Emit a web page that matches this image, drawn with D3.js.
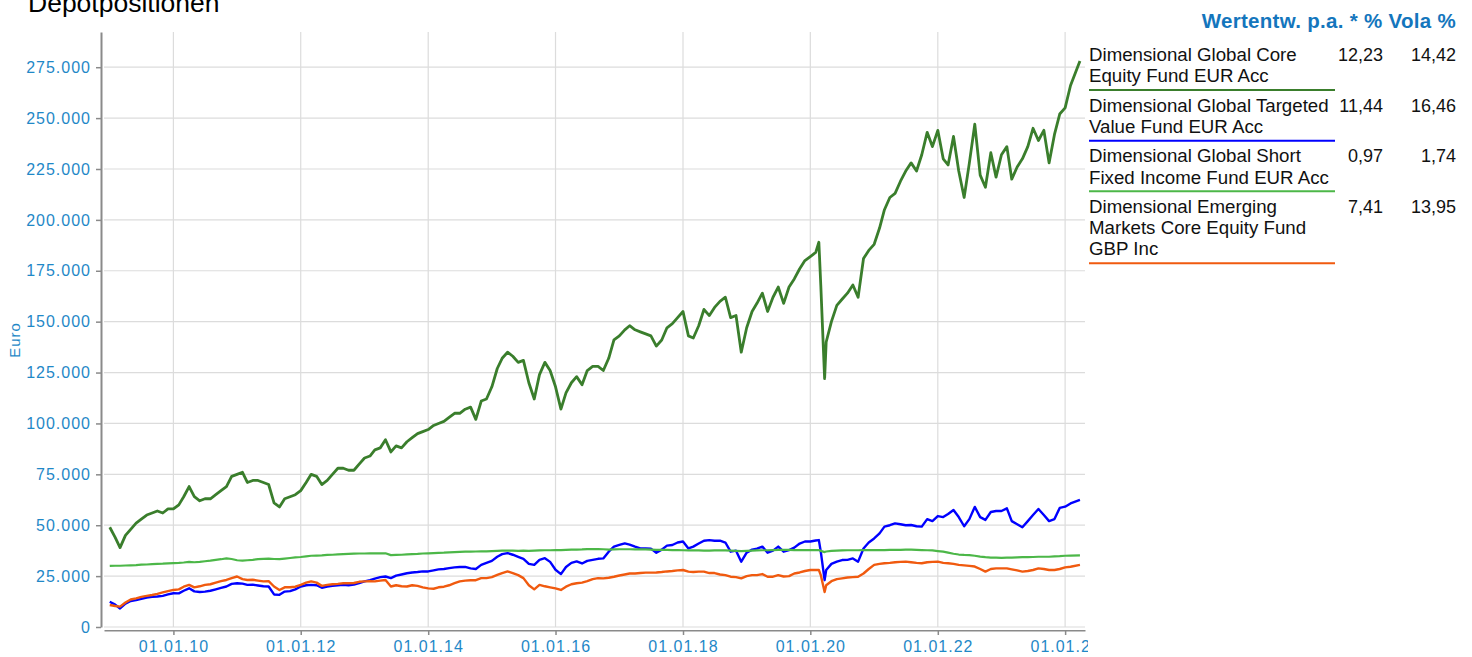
<!DOCTYPE html>
<html>
<head>
<meta charset="utf-8">
<script src="https://cdn.jsdelivr.net/npm/d3@7"></script>
<style>
  body { margin: 0; background: #fff; font-family: "Liberation Sans", Arial, sans-serif; }
</style>
</head>
<body>
<div class="canvas"></div>
<script>
// dates of the readings (month starts, plus a few extra points around the covid crash)
const dates = [
  '2009-01','2009-02','2009-03','2009-04','2009-05','2009-06','2009-07','2009-08','2009-09','2009-10','2009-11','2009-12',
  '2010-01','2010-02','2010-03','2010-04','2010-05','2010-06','2010-07','2010-08','2010-09','2010-10','2010-11','2010-12',
  '2011-01','2011-02','2011-03','2011-04','2011-05','2011-06','2011-07','2011-08','2011-09','2011-10','2011-11','2011-12',
  '2012-01','2012-02','2012-03','2012-04','2012-05','2012-06','2012-07','2012-08','2012-09','2012-10','2012-11','2012-12',
  '2013-01','2013-02','2013-03','2013-04','2013-05','2013-06','2013-07','2013-08','2013-09','2013-10','2013-11','2013-12',
  '2014-01','2014-02','2014-03','2014-04','2014-05','2014-06','2014-07','2014-08','2014-09','2014-10','2014-11','2014-12',
  '2015-01','2015-02','2015-03','2015-04','2015-05','2015-06','2015-07','2015-08','2015-09','2015-10','2015-11','2015-12',
  '2016-01','2016-02','2016-03','2016-04','2016-05','2016-06','2016-07','2016-08','2016-09','2016-10','2016-11','2016-12',
  '2017-01','2017-02','2017-03','2017-04','2017-05','2017-06','2017-07','2017-08','2017-09','2017-10','2017-11','2017-12',
  '2018-01','2018-02','2018-03','2018-04','2018-05','2018-06','2018-07','2018-08','2018-09','2018-10','2018-11','2018-12',
  '2019-01','2019-02','2019-03','2019-04','2019-05','2019-06','2019-07','2019-08','2019-09','2019-10','2019-11','2019-12',
  '2020-01','2020-02','2020-02-19','2020-03','2020-03-23','2020-04','2020-05','2020-06','2020-07','2020-08','2020-09','2020-10','2020-11','2020-12',
  '2021-01','2021-02','2021-03','2021-04','2021-05','2021-06','2021-07','2021-08','2021-09','2021-10','2021-11','2021-12',
  '2022-01','2022-02','2022-03','2022-04','2022-05','2022-06','2022-07','2022-08','2022-09','2022-10','2022-11','2022-12',
  '2023-01','2023-02','2023-03','2023-04','2023-05','2023-06','2023-07','2023-08','2023-09','2023-10','2023-11','2023-12',
  '2024-01','2024-02','2024-03-26'
];

// values in thousand euro
const coreEquity = [
  49, 44, 39, 45, 48, 51, 53, 55, 56, 57, 56, 58,
  58, 60, 64, 69, 64, 62, 63, 63, 65, 67, 69, 74,
  75, 76, 71, 72, 72, 71, 70, 61, 59, 63, 64, 65,
  67, 71, 75, 74, 70, 72, 75, 78, 78, 77, 77, 80,
  83, 84, 87, 88, 92, 86, 89, 88, 91, 93, 95, 96,
  97, 99, 100, 101, 103, 105, 105, 107, 108, 102, 111, 112,
  118, 127, 132, 135, 133, 130, 131, 120, 112, 124, 130, 126,
  118, 107, 115, 120, 123, 119, 126, 128, 128, 126, 132, 141,
  143, 146, 148, 146, 145, 144, 143, 138, 141, 147, 149, 152,
  155, 143, 142, 148, 156, 153, 157, 160, 162, 152, 153, 135,
  147, 155, 159, 164, 155, 162, 167, 159, 167, 171, 176, 180,
  182, 184, 189, 168, 122, 140, 150, 158, 161, 164, 168, 162, 181, 185,
  188, 196, 205, 211, 213, 219, 224, 228, 224, 232, 243, 236,
  244, 230, 227, 241, 224, 211, 228, 247, 222, 216, 233, 221,
  232, 236, 220, 226, 230, 236, 245, 239, 244, 228, 242, 252,
  255, 266, 278
];

const targetedValue = [
  12.4, 11, 9.1, 11.5, 12.8, 13.2, 13.8, 14.5, 14.8, 15, 15.3, 16,
  16.6, 16.5, 17.8, 19, 17.5, 17.2, 17.4, 17.8, 18.5, 19.2, 19.9, 21.2,
  21.5, 21.3, 20.7, 20.8, 20.4, 20, 19.9, 16, 15.8, 17.4, 17.6, 18.5,
  19.9, 20.5, 20.7, 20.5, 19.3, 19.9, 20.2, 20.5, 20.7, 20.5, 20.8, 21.6,
  22.4, 23, 23.8, 24.5, 24.8, 24, 25.2, 25.8, 26.4, 26.8, 27, 27.3,
  27.3, 27.8, 28.3, 28.5, 28.9, 29.3, 29.5, 29.5, 28.8, 28.5, 30.5, 31.5,
  32.5, 34.5, 35.8, 36.3, 35.5, 34.5, 33.5, 31, 30.5, 33, 33.8, 32,
  28.1, 26, 29.5, 31.5, 32.2, 31.2, 32.5, 33, 33.5, 33.7, 37, 39.5,
  40.3, 41.1, 40.5, 39.5, 38.6, 38.6, 38.5, 36.5, 38, 40, 40.3, 41.5,
  42, 38.6, 39.5, 41, 42.4, 42.7, 42.4, 42.4, 41.5, 37, 37.5, 32.1,
  36.5, 38, 38.5, 39.5, 36.5, 37.5, 39.5, 37, 37.8, 39, 41, 42,
  42, 42.5, 42.7, 37, 23, 28, 31, 32.1, 32.9, 33, 33.7, 32.1, 38.6, 41.5,
  43.5, 46, 49.3, 50, 50.9, 50.5, 50, 50.1, 49.5, 49.3, 53, 52,
  54.5, 54, 55.5, 57.5, 54, 49.5, 53, 59, 54, 52.6, 56.5, 57,
  57, 58.3, 52, 50.5, 49, 52, 55, 58, 55, 52, 53, 58.5,
  59.1, 60.7, 62.4
];

const shortFixed = [
  30, 30.1, 30.1, 30.2, 30.3, 30.4, 30.6, 30.7, 30.9, 31, 31.1, 31.3,
  31.4, 31.5, 31.7, 32, 31.8, 32, 32.3, 32.6, 33, 33.3, 33.7, 33.4,
  32.8, 32.6, 32.8, 33, 33.3, 33.5, 33.6, 33.4, 33.3, 33.6, 33.9, 34.2,
  34.4, 34.7, 35, 35.1, 35.2, 35.4, 35.5, 35.7, 35.8, 35.9, 36, 36.1,
  36.1, 36.2, 36.2, 36.2, 36.2, 35.3, 35.4, 35.5, 35.7, 35.8, 35.9, 36.1,
  36.2, 36.3, 36.4, 36.5, 36.7, 36.8, 36.9, 37, 37, 37.1, 37.2, 37.2,
  37.3, 37.4, 37.5, 37.5, 37.5, 37.4, 37.5, 37.4, 37.5, 37.6, 37.7, 37.7,
  37.8, 37.8, 37.9, 38, 38, 38.1, 38.3, 38.3, 38.3, 38.2, 38, 38.1,
  38.2, 38.2, 38.2, 38.1, 38.1, 38.1, 38, 37.9, 37.9, 37.9, 37.8, 37.8,
  37.7, 37.6, 37.6, 37.6, 37.5, 37.5, 37.6, 37.6, 37.6, 37.5, 37.4, 37.3,
  37.4, 37.5, 37.6, 37.7, 37.7, 37.8, 37.9, 37.9, 37.9, 37.8, 37.8, 37.8,
  37.8, 37.8, 37.8, 37.4, 36.8, 37.1, 37.4, 37.5, 37.6, 37.7, 37.7, 37.7, 37.8, 37.8,
  37.8, 37.8, 37.8, 37.9, 37.9, 37.9, 38, 38, 37.9, 37.8, 37.7, 37.6,
  37.3, 37, 36.5, 36, 35.6, 35.4, 35.3, 35, 34.6, 34.3, 34.1, 34.1,
  34, 34.1, 34.1, 34.2, 34.3, 34.3, 34.4, 34.5, 34.5, 34.5, 34.7, 34.8,
  35, 35.1, 35.2
];

const emerging = [
  10.8, 10.3, 10, 12, 13.5, 14.1, 14.8, 15.3, 15.7, 16.3, 17, 17.6,
  18.2, 18.5, 19.8, 20.7, 19.5, 20, 20.7, 21, 21.8, 22.5, 23.1, 24,
  24.8, 23.5, 23.1, 23.2, 22.8, 22.4, 22.5, 19.9, 18.2, 19.5, 19.5, 19.8,
  20.7, 21.8, 22.4, 21.8, 20.2, 20.7, 21, 21.2, 21.5, 21.5, 21.6, 22.2,
  22.4, 22.5, 22.4, 22.8, 23.1, 19.9, 20.5, 20, 19.9, 20.5, 20.2, 19.5,
  19, 18.8, 19.5, 19.8, 20.5, 21.5, 22.4, 22.8, 23, 23, 24, 24,
  24.5, 25.6, 26.5, 27.3, 26.5, 25.5, 24, 20.5, 18.5, 20.7, 20, 19.5,
  19, 18.2, 19.8, 21, 21.5, 21.8, 22.5, 23.5, 24, 23.9, 24.2, 24.7,
  25.3, 25.8, 26.3, 26.3, 26.5, 26.7, 26.7, 26.8, 27, 27.3, 27.5, 27.8,
  28, 27.2, 27, 27.2, 27.2, 26.5, 26.5, 25.8, 25.5, 24.7, 24.5, 23.9,
  25, 25.5, 25.5, 26, 24.7, 24.7, 25.5, 24.8, 25, 26.3, 26.8, 27.5,
  28, 28, 28, 25.5, 17.2, 20.5, 22.5, 23.5, 23.9, 24.3, 24.5, 24.7, 26.3, 28.5,
  30.5, 31, 31.3, 31.5, 31.8, 32, 32.1, 31.8, 31.5, 31.3, 31.8, 32,
  32.1, 31.5, 31.3, 31, 30.5, 30.3, 30, 29.7, 28.5, 27.2, 28.5, 28.8,
  28.8, 28.8, 28.3, 27.8, 27.2, 27.5, 28, 28.8, 28.5, 28, 28, 28.5,
  29.3, 29.6, 30.5
];

// legend texts
const fundNames = [
  ['Dimensional Global Core', 'Equity Fund EUR Acc'],
  ['Dimensional Global Targeted', 'Value Fund EUR Acc'],
  ['Dimensional Global Short', 'Fixed Income Fund EUR Acc'],
  ['Dimensional Emerging', 'Markets Core Equity Fund', 'GBP Inc']
];
const returnsPa = ['12,23', '11,44', '0,97', '7,41'];
const volas = ['14,42', '16,46', '1,74', '13,95'];
const colors = ['#3a7e2c', '#0000ff', '#4cb748', '#f05a0f'];
const widths = [2.8, 2.4, 2.2, 2.4];
const series = [coreEquity, targetedValue, shortFixed, emerging];

const yTicks = [0, 25000, 50000, 75000, 100000, 125000, 150000, 175000, 200000, 225000, 250000, 275000];

const blue = '#1f88c7';
const axisGrey = '#8a8a8a';

const parseDate = s => s.length > 7 ? d3.timeParse('%Y-%m-%d')(s) : d3.timeParse('%Y-%m')(s);
const parsedDates = dates.map(parseDate);

const svg = d3.select('.canvas')
  .append('svg')
  .attr('width', 1472)
  .attr('height', 657)
  .style('display', 'block');

// plot area in page pixels
const plotLeft = 104, plotRight = 1085, plotTop = 32, plotBottom = 627;

const x = d3.scaleTime()
  .domain([new Date(2008, 10, 29), new Date(2024, 3, 24)])
  .range([plotLeft, plotRight]);

const y = d3.scaleLinear()
  .domain([0, 292300])
  .range([plotBottom, plotTop]);

const de = d3.formatLocale({ decimal: ',', thousands: '.', grouping: [3], currency: ['', ' €'] });
const fmt = de.format(',d');

// title (top cut off like in the original)
svg.append('text')
  .attr('x', 28)
  .attr('y', 12)
  .attr('font-size', 26.5)
  .attr('fill', '#000')
  .text('Depotpositionen');

// grid lines
const xTicks = x.ticks(d3.timeYear.every(2));
svg.append('g')
  .selectAll('line')
  .data(xTicks)
  .enter().append('line')
  .attr('x1', d => x(d)).attr('x2', d => x(d))
  .attr('y1', plotTop).attr('y2', plotBottom)
  .attr('stroke', '#dcdcdc').attr('stroke-width', 1.2);

svg.append('g')
  .selectAll('line')
  .data(yTicks)
  .enter().append('line')
  .attr('x1', plotLeft).attr('x2', plotRight)
  .attr('y1', d => y(d)).attr('y2', d => y(d))
  .attr('stroke', '#dcdcdc').attr('stroke-width', 1.2);

// axes
const yAxisGroup = svg.append('g').attr('transform', 'translate(101, 0)');
yAxisGroup.call(d3.axisLeft(y).tickValues(yTicks).tickFormat(fmt).tickSize(5).tickSizeOuter(0).tickPadding(5));

svg.append('clipPath').attr('id', 'axisClip')
  .append('rect').attr('x', 0).attr('y', 0).attr('width', 1088).attr('height', 657);

const xAxisGroup = svg.append('g')
  .attr('transform', `translate(0, ${plotBottom + 3})`)
  .attr('clip-path', 'url(#axisClip)');
xAxisGroup.call(d3.axisBottom(x).tickValues(xTicks).tickFormat(d3.timeFormat('%d.%m.%y')).tickSize(5).tickSizeOuter(0).tickPadding(6));

[yAxisGroup, xAxisGroup].forEach(g => {
  g.select('.domain').attr('stroke', axisGrey).attr('stroke-width', 2);
  g.selectAll('.tick line').attr('stroke', axisGrey).attr('stroke-width', 1.5);
  g.selectAll('.tick text')
    .attr('fill', blue)
    .attr('font-size', 16)
    .attr('font-family', '"Liberation Sans", Arial, sans-serif')
    .style('letter-spacing', '1px');
});

// axis title
svg.append('text')
  .attr('transform', 'translate(20, 340) rotate(-90)')
  .attr('text-anchor', 'middle')
  .attr('font-size', 15)
  .attr('fill', blue)
  .style('letter-spacing', '1px')
  .text('Euro');

// lines
const line = d3.line()
  .x((d, i) => x(parsedDates[i]))
  .y(d => y(d * 1000));

svg.append('g')
  .selectAll('path')
  .data(series)
  .enter().append('path')
  .attr('d', line)
  .attr('fill', 'none')
  .attr('stroke', (d, i) => colors[i])
  .attr('stroke-width', (d, i) => widths[i])
  .attr('stroke-linejoin', 'round');

// legend table
const legend = svg.append('g');

legend.append('text')
  .attr('x', 1456)
  .attr('y', 28)
  .attr('text-anchor', 'end')
  .attr('font-size', 20.5)
  .attr('font-weight', 'bold')
  .attr('fill', '#1476bd')
  .style('letter-spacing', '0.3px')
  .text('Wertentw. p.a. * % Vola %');

const lineGap = 21.3;
let base = 61;
fundNames.forEach((lines, i) => {
  const row = legend.append('g');
  row.append('text')
    .attr('font-size', 18.7)
    .attr('fill', '#111')
    .selectAll('tspan')
    .data(lines)
    .enter().append('tspan')
    .attr('x', 1089)
    .attr('y', (d, k) => base + k * lineGap)
    .text(d => d);

  row.append('text')
    .attr('x', 1383).attr('y', base)
    .attr('text-anchor', 'end')
    .attr('font-size', 18).attr('fill', '#111')
    .text(returnsPa[i]);

  row.append('text')
    .attr('x', 1456).attr('y', base)
    .attr('text-anchor', 'end')
    .attr('font-size', 18).attr('fill', '#111')
    .text(volas[i]);

  const underline = base + (lines.length - 1) * lineGap + 7.8;
  row.append('line')
    .attr('x1', 1089).attr('x2', 1335)
    .attr('y1', underline).attr('y2', underline)
    .attr('stroke', colors[i])
    .attr('stroke-width', 2);

  base = underline + 21.5;
});
</script>
</body>
</html>
